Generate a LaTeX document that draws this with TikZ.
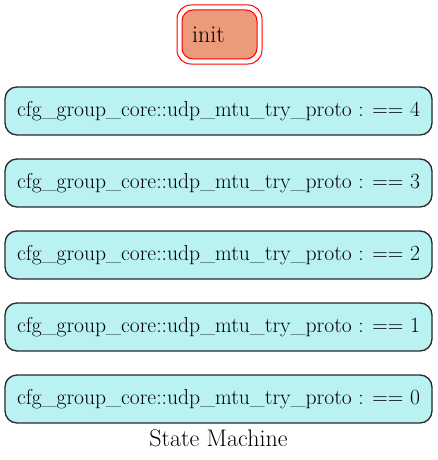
\documentclass[tikz,border=0pt]{standalone}
\usetikzlibrary{positioning}
\definecolor{statefill}{RGB}{186,242,242}
\definecolor{initfill}{RGB}{235,154,124}
\definecolor{stateline}{RGB}{40,40,40}

\begin{document}
\begin{tikzpicture}
  [
  x=1pt, y=-1pt, line width=1.3pt,
  statebox/.style={rectangle, rounded corners=12pt, draw=stateline, fill=statefill,
    minimum width=427pt, minimum height=48pt, inner sep=0pt,
    font=\fontsize{21.6}{26}\selectfont},
  initbox/.style={rectangle, rounded corners=11pt, draw=red, fill=initfill, line width=1pt,
    text width=55pt, align=left, inner xsep=10pt, minimum height=49pt, inner ysep=0pt,
    font=\fontsize{24}{28}\selectfont},
  initring/.style={rectangle, rounded corners=14pt, draw=red, line width=1pt,
    minimum width=85pt, minimum height=59pt, inner sep=0pt},
  captiontext/.style={font=\fontsize{24}{28}\selectfont}
  ]
  \useasboundingbox (0,0) rectangle (437,460);

  \node[initring] (initouter) at (219.5,34.5) {};
  \node[initbox] (init) at (219.5,34.5) {init};

  \foreach \n in {4,3,2,1,0} {
    \node[statebox] (s\n) at (218.5,111+72*4-72*\n) {cfg\_group\_core::udp\_mtu\_try\_proto : == \n};
  }

  \node[captiontext] (caption) at (218.5,438) {State Machine};
\end{tikzpicture}
\end{document}
